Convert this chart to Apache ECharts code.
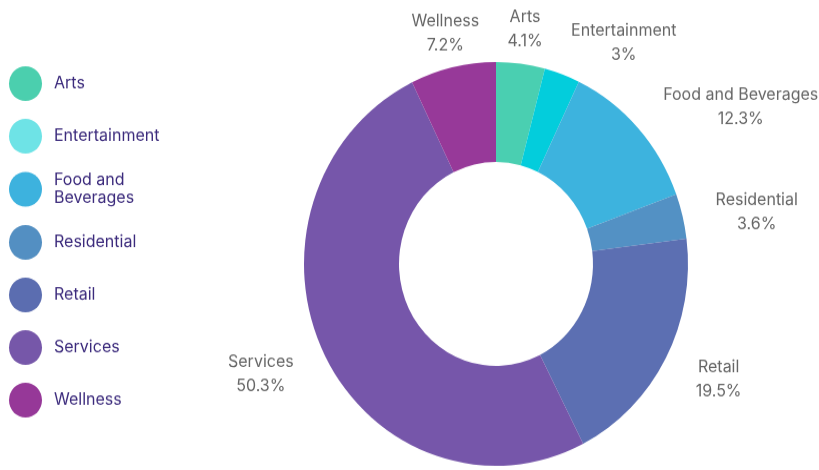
<!DOCTYPE html>
<html><head><meta charset="utf-8">
<script src="https://cdn.jsdelivr.net/npm/echarts@6/dist/echarts.min.js"></script>
<style>
html,body{margin:0;padding:0;background:#fff;overflow:hidden}
#wrap{width:819px;height:470px;overflow:hidden}
#chart{width:819px;height:447px;transform:scaleY(1.0515);transform-origin:0 0}
</style></head><body><div id="wrap"><div id="chart"></div></div>
<script>
const categories = ['Arts','Entertainment','Food and Beverages','Residential','Retail','Services','Wellness'];
const shares = [4.1, 3, 12.3, 3.6, 19.5, 50.3, 7.2];
const sliceColors = ['#4acfb1','#03cddc','#3db3de','#5391c4','#5c6fb2','#7656aa','#973999'];
const legendColors = ['#4bcfae','#6ee3e6','#3db2de','#538fc2','#5b6db0','#7657a9','#963898'];

const PIE_CX = 496, PIE_CY = 251, R_IN = 97, R_OUT = 192;
const FONT = 'Inter';
const total = shares.reduce((a, b) => a + b, 0);

const chart = echarts.init(document.getElementById('chart'), null, {renderer: 'canvas'});
chart.setOption({
  animation: false,
  backgroundColor: '#ffffff',
  legend: {
    orient: 'vertical',
    left: 9,
    top: 63,
    padding: 0,
    itemWidth: 33,
    itemHeight: 33,
    itemGap: 17,
    icon: 'circle',
    selectedMode: false,
    formatter: n => n === 'Food and Beverages' ? 'Food and\nBeverages' : n,
    textStyle: {color: '#3b2a7c', fontFamily: FONT, fontSize: 16, lineHeight: 17, padding: [0, 0, 0, 7]},
    data: categories.map((n, i) => ({name: n, itemStyle: {color: legendColors[i]}}))
  },
  series: [{
    type: 'pie',
    center: [PIE_CX, PIE_CY],
    radius: [R_IN, R_OUT],
    startAngle: 90,
    clockwise: true,
    avoidLabelOverlap: false,
    silent: true,
    data: categories.map((n, i) => ({name: n, value: shares[i], itemStyle: {color: sliceColors[i]}})),
    label: {
      show: true,
      position: 'outside',
      formatter: p => p.name + '\n' + p.value + '%',
      color: '#666666',
      fontFamily: FONT,
      fontSize: 16,
      lineHeight: 23,
      align: 'center'
    },
    labelLine: {show: false},
    labelLayout: function (params) {
      const idx = params.dataIndex;
      let before = 0;
      for (let i = 0; i < idx; i++) before += shares[i];
      const theta = (before + shares[idx] / 2) / total * 2 * Math.PI;
      const s = Math.sin(theta), c = Math.cos(theta);
      const L = R_OUT + 34;
      const ax = PIE_CX + s * L, ay = PIE_CY - c * L + 4 * Math.abs(s);
      const w = params.labelRect.width;
      const f = Math.min(1, Math.max(0, (Math.abs(s) - 0.25) / 0.1));
      return {x: ax + Math.sign(s) * w / 2 * f, y: ay, align: 'center', verticalAlign: 'middle'};
    }
  }]
});
</script></body></html>
